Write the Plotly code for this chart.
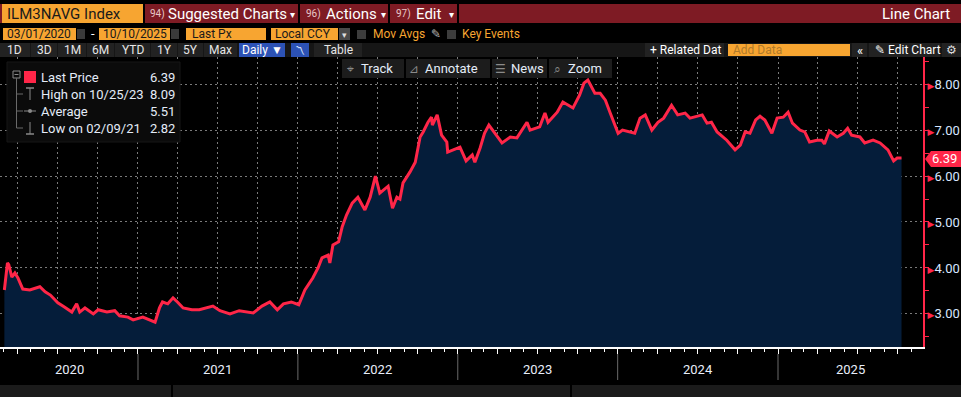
import plotly.graph_objects as go
import pandas as pd

# ---------------- data ----------------
dates = [
    "2020-03-02", "2020-03-04", "2020-03-06", "2020-03-09", "2020-03-12", "2020-03-19",
    "2020-03-26", "2020-04-02", "2020-04-13", "2020-04-29", "2020-05-22", "2020-06-03",
    "2020-06-15", "2020-07-02", "2020-07-17", "2020-08-03", "2020-08-14", "2020-08-21",
    "2020-09-02", "2020-09-21", "2020-10-02", "2020-10-22", "2020-11-09", "2020-11-20",
    "2020-12-09", "2020-12-21", "2021-01-12", "2021-01-28", "2021-02-09", "2021-02-19",
    "2021-02-26", "2021-03-10", "2021-03-22", "2021-04-01", "2021-04-14", "2021-05-04",
    "2021-05-21", "2021-06-21", "2021-07-07", "2021-07-30", "2021-08-20", "2021-09-21",
    "2021-10-11", "2021-10-29", "2021-11-15", "2021-11-29", "2021-12-17", "2022-01-03",
    "2022-01-17", "2022-02-04", "2022-02-16", "2022-02-25", "2022-03-11", "2022-03-15",
    "2022-03-22", "2022-04-04", "2022-04-12", "2022-04-22", "2022-05-05", "2022-05-18",
    "2022-06-03", "2022-06-15", "2022-06-27", "2022-07-07", "2022-07-26", "2022-08-05",
    "2022-08-15", "2022-08-22", "2022-08-29", "2022-09-14", "2022-09-26", "2022-10-07",
    "2022-10-14", "2022-10-25", "2022-11-02", "2022-11-04", "2022-11-15", "2022-11-25",
    "2022-12-07", "2022-12-09", "2022-12-21", "2023-01-06", "2023-01-20", "2023-02-03",
    "2023-02-09", "2023-02-21", "2023-03-03", "2023-03-13", "2023-03-27", "2023-04-12",
    "2023-05-01", "2023-05-16", "2023-06-08", "2023-06-15", "2023-07-07", "2023-07-19",
    "2023-07-26", "2023-08-16", "2023-08-29", "2023-09-21", "2023-10-06", "2023-10-16",
    "2023-10-25", "2023-11-10", "2023-11-22", "2023-12-04", "2023-12-15", "2023-12-27",
    "2024-01-02", "2024-01-12", "2024-01-29", "2024-02-09", "2024-02-21", "2024-03-04",
    "2024-03-19", "2024-04-02", "2024-04-15", "2024-05-03", "2024-05-17", "2024-06-03",
    "2024-06-14", "2024-07-12", "2024-07-23", "2024-08-02", "2024-08-15", "2024-09-06",
    "2024-09-25", "2024-10-07", "2024-10-18", "2024-10-29", "2024-11-11", "2024-11-21",
    "2024-12-02", "2024-12-18", "2024-12-30", "2025-01-13", "2025-01-24", "2025-02-03",
    "2025-02-20", "2025-03-03", "2025-03-14", "2025-03-31", "2025-04-11", "2025-04-17",
    "2025-04-28", "2025-05-16", "2025-05-30", "2025-06-09", "2025-06-18", "2025-07-07",
    "2025-07-18", "2025-08-06", "2025-08-22", "2025-09-09", "2025-09-22", "2025-09-30",
    "2025-10-10",
]
prices = [
    3.52, 3.70, 3.74, 4.11, 4.07, 3.80,
    3.89, 3.78, 3.54, 3.52, 3.59, 3.48,
    3.41, 3.24, 3.15, 3.04, 3.22, 3.04,
    3.13, 3.00, 3.09, 3.04, 3.07, 2.96,
    2.93, 2.87, 2.93, 2.87, 2.82, 3.13,
    3.26, 3.22, 3.35, 3.26, 3.13, 3.09,
    3.09, 3.17, 3.07, 3.00, 3.07, 3.02,
    3.17, 3.26, 3.09, 3.22, 3.26, 3.20,
    3.52, 3.78, 4.00, 4.22, 4.28, 4.11,
    4.50, 4.57, 4.89, 5.15, 5.41, 5.54,
    5.26, 5.54, 6.00, 5.63, 5.78, 5.30,
    5.54, 5.50, 5.85, 6.09, 6.30, 6.85,
    6.96, 7.17, 7.28, 7.11, 7.33, 6.89,
    6.74, 6.52, 6.57, 6.63, 6.33, 6.46,
    6.30, 6.61, 6.93, 7.11, 6.93, 6.72,
    6.85, 6.83, 7.17, 7.00, 7.07, 7.37,
    7.17, 7.39, 7.61, 7.48, 7.76, 8.02,
    8.09, 7.80, 7.80, 7.65, 7.37, 7.07,
    6.93, 7.00, 6.96, 6.93, 7.26, 7.33,
    7.00, 7.17, 7.26, 7.54, 7.33, 7.37,
    7.26, 7.33, 7.15, 7.17, 6.96, 6.78,
    6.57, 6.67, 6.96, 6.93, 7.22, 7.30,
    7.22, 6.93, 7.26, 7.28, 7.39, 7.15,
    7.00, 6.96, 6.74, 6.78, 6.78, 6.70,
    6.98, 6.85, 6.93, 7.04, 6.89, 6.85,
    6.72, 6.78, 6.72, 6.57, 6.33, 6.39,
    6.39,
]
year_labels = ["2020", "2021", "2022", "2023", "2024", "2025"]
y_tick_values = [3, 4, 5, 6, 7, 8]
stat_labels = ["Last Price", "High on 10/25/23", "Average", "Low on 02/09/21"]
stat_values = [6.39, 8.09, 5.51, 2.82]
last_price = 6.39

# ---------------- styling / geometry ----------------
W, H = 961, 397
PL, PR, PT, PB = 0, 923, 57, 347          # plot area in pixels
X_RANGE = ["2020-02-21", "2025-11-28"]
Y_RANGE = [2.28, 8.59]

RED = "#ff2648"
NAVY = "#051d3a"
ORANGE = "#f7a531"
MAROON = "#7e1b24"
TXT = "#e4ecf8"
FONT = "Roboto, Liberation Sans, DejaVu Sans, sans-serif"


def pxx(x):
    return (x - PL) / (PR - PL)


def pxy(y):
    return (PB - y) / (PB - PT)


shapes = []
annotations = []


def rect(x0, y0, x1, y1, fill, line=None, lw=0):
    shapes.append(dict(type="rect", xref="paper", yref="paper",
                       x0=pxx(x0), x1=pxx(x1), y0=pxy(y1), y1=pxy(y0),
                       fillcolor=fill, line=dict(color=line or fill, width=lw),
                       layer="above"))


def line(x0, y0, x1, y1, color, width=1, dash=None):
    shapes.append(dict(type="line", xref="paper", yref="paper",
                       x0=pxx(x0), x1=pxx(x1), y0=pxy(y0), y1=pxy(y1),
                       line=dict(color=color, width=width, dash=dash), layer="above"))


def text(x, y, s, size=13, color=TXT, anchor="left", family=FONT):
    annotations.append(dict(xref="paper", yref="paper", x=pxx(x), y=pxy(y),
                            text=s, showarrow=False, xanchor=anchor, yanchor="middle",
                            font=dict(size=size, color=color, family=family)))


# ---------------- header row 1 ----------------
rect(0, 4, W, 23, MAROON)
rect(2, 4, 143, 23, ORANGE)
text(5, 14, "ILM3NAVG Index", 15, "#1a1a1a")
for x0, x1 in [(143, 145), (298, 300), (388, 390), (457, 459)]:
    rect(x0, 4, x1, 23, "#000000")
text(148, 14, "94)", 10, "#e8c8c8")
text(166, 14, "Suggested Charts", 15, "#ffffff")
text(288, 15, "▾", 10, "#ffffff")
text(304, 14, "96)", 10, "#e8c8c8")
text(324, 14, "Actions", 15, "#ffffff")
text(379, 15, "▾", 10, "#ffffff")
text(394, 14, "97)", 10, "#e8c8c8")
text(414, 14, "Edit", 15, "#ffffff")
text(447, 15, "▾", 10, "#ffffff")
text(952, 14, "Line Chart", 15, "#ffffff", anchor="right")

# ---------------- header row 2 ----------------
rect(3, 28, 76, 40, ORANGE)
text(5, 34, "03/01/2020", 12, "#1a1a1a")
rect(77, 29, 85, 39, "#3a3a3a")
text(93, 34, "-", 13, "#ffffff", anchor="center")
rect(99, 28, 170, 40, ORANGE)
text(101, 34, "10/10/2025", 12, "#1a1a1a")
rect(171, 29, 179, 39, "#3a3a3a")
rect(186, 28, 266, 40, ORANGE)
text(190, 34, "Last Px", 12, "#1a1a1a")
rect(271, 28, 338, 40, ORANGE)
text(273, 34, "Local CCY", 12, "#1a1a1a")
rect(339, 28, 350, 40, "#4a4a4a")
text(344.5, 35, "▾", 9, "#dddddd", anchor="center")
rect(357, 30, 366, 39, "#3c3c3c")
text(371, 34, "Mov Avgs", 12, ORANGE)
text(429, 34, "✎", 12, "#bbbbbb")
rect(447, 30, 456, 39, "#3c3c3c")
text(460, 34, "Key Events", 12, ORANGE)

# ---------------- header row 3 ----------------
rect(0, 43, W, 57, "#161616")
buttons = [(0, 30, "1D"), (31, 57, "3D"), (58, 86, "1M"), (87, 114, "6M"),
           (115, 150, "YTD"), (151, 177, "1Y"), (178, 203, "5Y"), (204, 237, "Max")]
for x0, x1, lab in buttons:
    rect(x0, 43, x1, 57, "#222222")
    text((x0 + x1) / 2, 50, lab, 12, "#e6e6e6", anchor="center")
rect(239, 43, 285, 57, "#2c52b5")
text(262, 50, "Daily ▼", 12, "#ffffff", anchor="center")
rect(291, 43, 309, 57, "#2c52b5")
text(300, 50, "〽", 10, "#dfe8ff", anchor="center")
rect(314, 43, 362, 57, "#222222")
text(338, 50, "Table", 12, "#e6e6e6", anchor="center")
rect(645, 43, 724, 57, "#222222")
text(648, 50, "+ Related Dat", 12, "#ffffff")
rect(728, 44, 850, 56, ORANGE)
text(731, 50, "Add Data", 12, "#b07a2a")
rect(852, 43, 867, 57, "#222222")
text(859.5, 50, "«", 13, "#ffffff", anchor="center")
rect(869, 43, 940, 57, "#222222")
text(873, 50, "✎ Edit Chart", 12, "#ffffff")
rect(942, 43, W, 57, "#222222")
text(951, 50, "⚙", 12, "#dddddd", anchor="center")

# ---------------- bottom bar ----------------
rect(0, 385, W, H, "#1b1b1b")
rect(171, 385, 173, H, "#000000")
rect(570, 385, 572, H, "#000000")

# ---------------- in-plot toolbar ----------------
tool_buttons = [(342, 404, "⌖", "Track"), (406, 490, "⊿", "Annotate"),
                (492, 547, "☰", "News"), (549, 612, "⌕", "Zoom")]
for x0, x1, icon, lab in tool_buttons:
    rect(x0, 59, x1, 78, "#1c1c1c")
    text(x0 + 8, 68.5, icon, 12, "#8a8a8a", anchor="center")
    text(x0 + 17, 68.5, lab, 13, TXT)

# ---------------- stats box ----------------
rect(7, 62, 180, 142, "#0b0b0b", "#161616", 1)
rect(13, 71, 20, 78, "#0b0b0b", "#8a8a8a", 1)
line(14.5, 74.5, 18.5, 74.5, "#8a8a8a", 1)
line(16.5, 78, 16.5, 128, "#6a6a6a", 1)
for yy in (94, 111, 128):
    line(16.5, yy, 23, yy, "#6a6a6a", 1)
rect(24, 71, 36, 83, RED)
# high icon
line(30, 88, 30, 100, "#8a8a8a", 1)
line(26, 88, 34, 88, "#8a8a8a", 1.5)
# average icon
line(24, 111, 36, 111, "#8a8a8a", 1)
shapes.append(dict(type="circle", xref="paper", yref="paper",
                   x0=pxx(28), x1=pxx(32), y0=pxy(113), y1=pxy(109),
                   fillcolor="#8a8a8a", line=dict(color="#8a8a8a", width=0), layer="above"))
# low icon
line(30, 122, 30, 134, "#8a8a8a", 1)
line(26, 134, 34, 134, "#8a8a8a", 1.5)
for i, (lab, val) in enumerate(zip(stat_labels, stat_values)):
    yy = 77 + i * 17
    text(39, yy, lab, 13, TXT)
    text(177, yy, f"{val:.2f}", 13, TXT, anchor="right")

# ---------------- last price tag ----------------
tag_y0, tag_y1 = 151, 167
tag_path = "M {a},{m} L {b},{t} L {c},{t} L {c},{bt} L {b},{bt} Z".format(
    a=pxx(925), b=pxx(931), c=pxx(961), m=pxy(159), t=pxy(tag_y0), bt=pxy(tag_y1))
shapes.append(dict(type="path", xref="paper", yref="paper", path=tag_path,
                   fillcolor=RED, line=dict(color=RED, width=0), layer="above"))
annotations.append(dict(xref="paper", yref="y", x=pxx(945), y=last_price,
                        text=f"{last_price:.2f}", showarrow=False, xanchor="center",
                        yanchor="middle", font=dict(size=13, color="#ffffff", family=FONT)))

# ---------------- year labels & dividers ----------------
xr0, xr1 = pd.Timestamp(X_RANGE[0]), pd.Timestamp(X_RANGE[1])
for lab in year_labels:
    y0 = max(pd.Timestamp(f"{lab}-01-01"), xr0)
    y1 = min(pd.Timestamp(f"{int(lab) + 1}-01-01"), xr1)
    mid = y0 + (y1 - y0) / 2
    annotations.append(dict(xref="x", yref="paper", x=mid, y=pxy(369), text=lab,
                            showarrow=False, xanchor="center", yanchor="middle",
                            font=dict(size=13, color="#e8eefa", family=FONT)))
    if int(lab) > int(year_labels[0]):
        shapes.append(dict(type="line", xref="x", yref="paper",
                           x0=f"{lab}-01-01", x1=f"{lab}-01-01",
                           y0=pxy(354), y1=pxy(380),
                           line=dict(color="#6a6a6a", width=1)))

# ---------------- figure ----------------
fig = go.Figure()
fig.add_trace(go.Scatter(
    x=dates, y=prices, mode="lines", fill="tozeroy", fillcolor=NAVY,
    line=dict(color=RED, width=3), hoverinfo="skip", showlegend=False,
))

tri = '<span style="color:%s;font-size:9px">▶</span>' % RED
fig.update_layout(
    width=W, height=H,
    paper_bgcolor="#000000", plot_bgcolor="#000000",
    margin=dict(l=PL, r=W - PR, t=PT, b=H - PB, pad=0),
    showlegend=False,
    xaxis=dict(
        type="date", range=X_RANGE, showticklabels=False,
        showgrid=True, gridcolor="#7a7a7a", griddash="2px,3px", gridwidth=1,
        tick0="2020-01-01", dtick="M3",
        ticks="outside", ticklen=5, tickcolor="#ffffff", tickwidth=1,
        minor=dict(dtick="M1", ticks="outside", ticklen=3, tickcolor="#ffffff",
                   showgrid=False),
        showline=True, linecolor="#ffffff", linewidth=1.5,
        zeroline=False, fixedrange=True,
    ),
    yaxis=dict(
        side="right", range=Y_RANGE, autorange=False,
        tickvals=y_tick_values,
        ticktext=[tri + f"{v:.2f}" for v in y_tick_values],
        ticks="", showgrid=True, gridcolor="#7a7a7a", griddash="2px,3px", gridwidth=1,
        minor=dict(dtick=0.5, tick0=2.5, ticks="outside", ticklen=4, tickcolor=RED,
                   showgrid=False),
        tickfont=dict(size=13, color="#d7e6ff", family=FONT),
        showline=True, linecolor=RED, linewidth=2,
        zeroline=False, automargin=False, fixedrange=True,
    ),
    shapes=shapes,
    annotations=annotations,
)

fig.write_html(
    "out.html",
    config={"displayModeBar": False},
    post_script="document.body.style.margin='0';document.body.style.padding='0';"
                "document.body.style.background='#000';",
)
